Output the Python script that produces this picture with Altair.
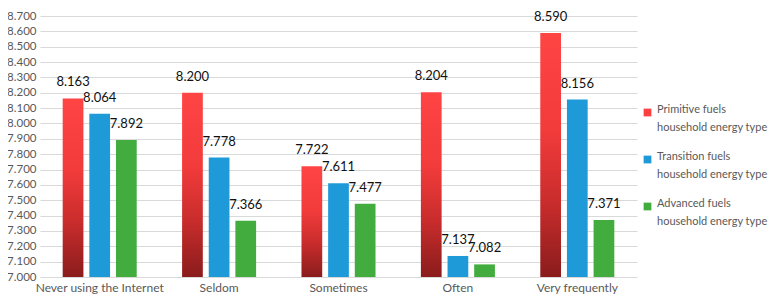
import altair as alt
import pandas as pd

categories = ["Never using the Internet", "Seldom", "Sometimes", "Often", "Very frequently"]
series = [
    "Primitive fuels household energy type",
    "Transition fuels household energy type",
    "Advanced fuels household energy type",
]
primitive = [8.163, 8.200, 7.722, 8.204, 8.590]
transition = [8.064, 7.778, 7.611, 7.137, 8.156]
advanced = [7.892, 7.366, 7.477, 7.082, 7.371]
y_ticks = [7.0, 7.1, 7.2, 7.3, 7.4, 7.5, 7.6, 7.7, 7.8, 7.9, 8.0, 8.1, 8.2, 8.3, 8.4, 8.5, 8.6, 8.7]

rows = []
for s, vals in zip(series, [primitive, transition, advanced]):
    for c, v in zip(categories, vals):
        rows.append({"cat": c, "series": s, "value": v})
df = pd.DataFrame(rows)

GRAY = "#595959"
AX_FONT = "Lato"

x_enc = alt.X("cat:N", sort=categories, title=None,
              scale=alt.Scale(paddingInner=0.38, paddingOuter=0.19),
              axis=alt.Axis(labelAngle=0, labelFont=AX_FONT, labelFontSize=12, labelColor=GRAY,
                            labelPadding=5, ticks=False, domain=False, grid=False))
y_enc = alt.Y("value:Q", title=None,
              scale=alt.Scale(domain=[7.0, 8.7], zero=False, nice=False),
              axis=alt.Axis(values=y_ticks, format=".3f", labelFont=AX_FONT, labelFontSize=11.5,
                            labelColor=GRAY, labelPadding=4, ticks=False, domain=False,
                            grid=True, gridColor="#d9d9d9", gridWidth=1.2))
xo = alt.XOffset("series:N", sort=series,
                 scale=alt.Scale(domain=series, paddingInner=0.222, paddingOuter=0))

base = alt.Chart(df)

red_grad = alt.LinearGradient(
    gradient="linear", x1=0, x2=0, y1=1, y2=0,
    stops=[
        alt.GradientStop(color="#8a1c1c", offset=0),
        alt.GradientStop(color="#c82c2c", offset=0.3),
        alt.GradientStop(color="#f23b3b", offset=0.6),
        alt.GradientStop(color="#ff4444", offset=1),
    ],
)

red_bars = base.transform_filter(alt.datum.series == series[0]).mark_bar(color=red_grad).encode(
    x=x_enc, xOffset=xo, y=y_enc, y2=alt.datum(7.0)
)

other_bars = base.transform_filter(alt.datum.series != series[0]).mark_bar().encode(
    x=x_enc, xOffset=xo, y=y_enc, y2=alt.datum(7.0),
    color=alt.Color("series:N", sort=series,
                    scale=alt.Scale(domain=series, range=["#ff4040", "#1f9ad8", "#42ad3e"]),
                    legend=alt.Legend(
                        title=None, orient="none", legendX=602, legendY=91,
                        symbolType="square", symbolSize=60, symbolStrokeWidth=0,
                        labelFont=AX_FONT, labelFontSize=11, labelColor=GRAY, labelLimit=250,
                        labelOffset=4, rowPadding=17, labelBaseline="alphabetic",
                        labelExpr="[replace(datum.label, ' household energy type', ''), 'household energy type']",
                    )),
)

labels = base.mark_text(baseline="alphabetic", dy=-12, font=AX_FONT, fontSize=13, color="#111111").encode(
    x=x_enc, xOffset=xo, y=y_enc, text=alt.Text("value:Q", format=".3f")
)

chart = alt.layer(red_bars, other_bars, labels).properties(
    width=597, height=261,
    autosize=alt.AutoSizeParams(type="none"),
    padding={"left": 32, "top": 8, "right": 137, "bottom": 18},
).configure(style={"guide-label": {"lineHeight": 18}}).configure_view(stroke=None)

chart.save("out.html", embed_options={"renderer": "svg", "actions": False})
